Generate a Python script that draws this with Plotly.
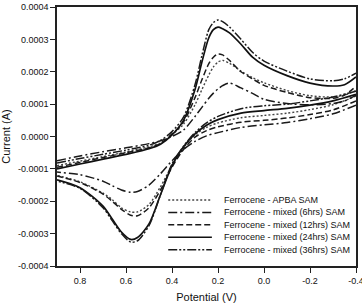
import numpy as np
import plotly.graph_objects as go

# Potential grids (V)
V_fwd = [0.90, 0.80, 0.70, 0.60, 0.50, 0.45, 0.40, 0.35, 0.30, 0.27, 0.24, 0.22, 0.20,
         0.18, 0.15, 0.10, 0.05, 0.00, -0.10, -0.20, -0.30, -0.35, -0.40]
V_rev = [-0.40, -0.30, -0.20, -0.10, 0.00, 0.10, 0.20, 0.25, 0.30, 0.35, 0.40, 0.45,
         0.50, 0.55, 0.58, 0.62, 0.66, 0.70, 0.80, 0.90]

# Currents in units of 1e-4 A
apba_fwd = [-0.9, -0.76, -0.62, -0.48, -0.32, -0.2, 0.06, 0.38, 0.98, 1.45, 1.9, 2.15, 2.3,
            2.35, 2.26, 2.02, 1.82, 1.66, 1.42, 1.26, 1.22, 1.28, 1.42]
apba_rev = [1.25, 0.98, 0.83, 0.72, 0.65, 0.58, 0.42, 0.28, 0.05, -0.35, -0.9, -1.55,
            -2.1, -2.33, -2.33, -2.2, -1.95, -1.75, -1.4, -1.2]
h6_fwd = [-0.75, -0.6, -0.47, -0.35, -0.22, -0.13, 0.0, 0.2, 0.62, 0.9, 1.18, 1.34, 1.47,
          1.57, 1.65, 1.5, 1.33, 1.15, 1.02, 0.98, 1.02, 1.1, 1.28]
h6_rev = [0.97, 0.7, 0.55, 0.43, 0.36, 0.28, 0.12, 0.02, -0.15, -0.4, -0.75, -1.15,
          -1.5, -1.7, -1.72, -1.65, -1.52, -1.38, -1.18, -1.1]
h12_fwd = [-0.95, -0.8, -0.65, -0.5, -0.35, -0.22, 0.08, 0.45, 1.2, 1.75, 2.25, 2.45, 2.55,
           2.52, 2.35, 2.0, 1.78, 1.58, 1.36, 1.2, 1.18, 1.28, 1.55]
h12_rev = [1.1, 0.82, 0.68, 0.57, 0.5, 0.44, 0.3, 0.18, -0.02, -0.4, -0.95, -1.65,
           -2.2, -2.45, -2.43, -2.25, -2.0, -1.78, -1.42, -1.22]
h24_fwd = [-1.0, -0.85, -0.7, -0.55, -0.38, -0.24, 0.05, 0.5, 1.45, 2.3, 3.05, 3.3, 3.38,
           3.33, 3.2, 2.85, 2.45, 2.2, 1.88, 1.65, 1.56, 1.6, 1.84]
h24_rev = [1.3, 1.1, 0.97, 0.87, 0.8, 0.72, 0.52, 0.35, 0.08, -0.32, -0.9, -1.8,
           -2.7, -3.12, -3.18, -2.95, -2.55, -2.15, -1.58, -1.34]
h36_fwd = [-0.82, -0.68, -0.55, -0.42, -0.27, -0.12, 0.15, 0.6, 1.6, 2.5, 3.3, 3.52, 3.6,
           3.55, 3.38, 3.0, 2.6, 2.33, 2.02, 1.78, 1.72, 1.78, 1.96]
h36_rev = [1.4, 1.22, 1.1, 1.0, 0.95, 0.86, 0.62, 0.42, 0.12, -0.3, -0.85, -1.8,
           -2.75, -3.22, -3.26, -3.0, -2.6, -2.2, -1.6, -1.38]

names = ["Ferrocene - APBA SAM", "Ferrocene - mixed (6hrs) SAM",
         "Ferrocene - mixed (12hrs) SAM", "Ferrocene - mixed (24hrs) SAM",
         "Ferrocene - mixed (36hrs) SAM"]
fwd = [apba_fwd, h6_fwd, h12_fwd, h24_fwd, h36_fwd]
rev = [apba_rev, h6_rev, h12_rev, h24_rev, h36_rev]

x_ticks = [0.8, 0.6, 0.4, 0.2, 0.0, -0.2, -0.4]
x_ticktext = ["0.8", "0.6", "0.4", "0.2", "0.0", "-0.2", "-0.4"]
y_ticks = [-0.0004, -0.0003, -0.0002, -0.0001, 0.0, 0.0001, 0.0002, 0.0003, 0.0004]
y_ticktext = ["-0.0004", "-0.0003", "-0.0002", "-0.0001", "0.0000", "0.0001", "0.0002",
              "0.0003", "0.0004"]

dashes = ["2px,2px", "9px,3px,2px,3px", "6px,3px", "solid", "9px,2px,2px,2px,2px,2px"]
colors = ["#444444", "#1a1a1a", "#1a1a1a", "#111111", "#1a1a1a"]
widths = [1.4, 1.5, 1.5, 1.7, 1.5]

FONT = "Liberation Sans, Arial, sans-serif"

fig = go.Figure()
for i in range(5):
    xs = list(V_fwd) + [None] + list(V_rev)
    ys = list(np.array(fwd[i]) * 1e-4) + [None] + list(np.array(rev[i]) * 1e-4)
    fig.add_trace(go.Scatter(x=xs, y=ys, mode="lines", name=names[i],
                             line=dict(color=colors[i], width=widths[i], dash=dashes[i],
                                       shape="spline", smoothing=0.8),
                             connectgaps=False, showlegend=False))

# manual legend
row_y0 = 0.255
step = 0.048
for i in range(5):
    yy = row_y0 - i * step
    fig.add_shape(type="line", xref="paper", yref="paper", x0=0.372, x1=0.518,
                  y0=yy, y1=yy, line=dict(color=colors[i], width=widths[i], dash=dashes[i]))
    fig.add_annotation(xref="paper", yref="paper", x=0.553, y=yy, text=names[i],
                       showarrow=False, xanchor="left", yanchor="middle",
                       font=dict(family=FONT, size=9, color="#111"))

fig.update_layout(
    template="none",
    width=362, height=305,
    margin=dict(l=57, r=6, t=7, b=39, autoexpand=False),
    paper_bgcolor="white", plot_bgcolor="white",
    showlegend=False,
    xaxis=dict(range=[0.9, -0.4], tickvals=x_ticks, ticktext=x_ticktext,
               ticks="outside", ticklen=5, tickwidth=1.2, tickcolor="#222",
               showline=True, linecolor="#222", linewidth=1.5, mirror=True,
               showgrid=False, zeroline=False, ticklabeloverflow="allow",
               automargin=False,
               tickfont=dict(family=FONT, size=9, color="#111"),
               title=dict(text="Potential (V)", font=dict(family=FONT, size=11, color="#111"),
                          standoff=9)),
    yaxis=dict(range=[-0.0004, 0.0004], tickvals=y_ticks, ticktext=y_ticktext,
               ticks="outside", ticklen=5, tickwidth=1.2, tickcolor="#222",
               showline=True, linecolor="#222", linewidth=1.5, mirror=True,
               showgrid=False, zeroline=False, automargin=False,
               tickfont=dict(family=FONT, size=9, color="#111"),
               title=dict(text="Current (A)", font=dict(family=FONT, size=11, color="#111"),
                          standoff=6)),
)

fig.write_html("out.html")
